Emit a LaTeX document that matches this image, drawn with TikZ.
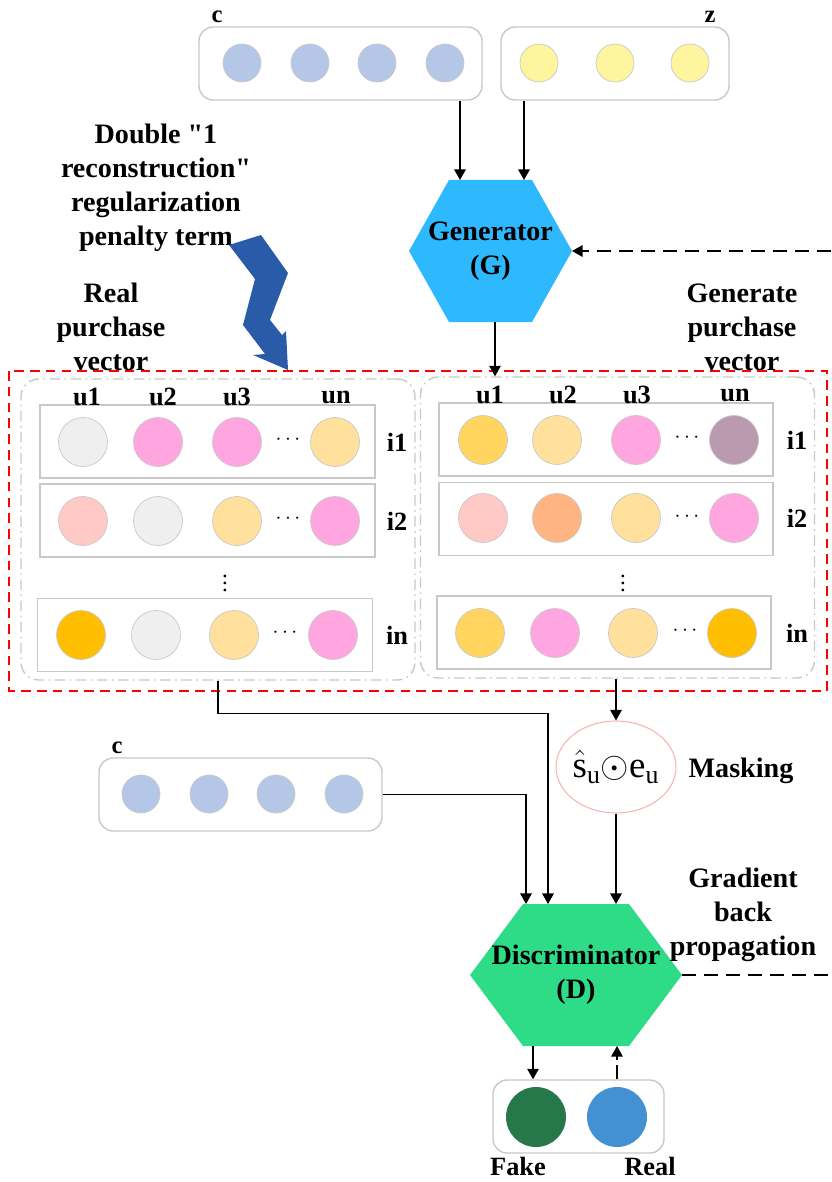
\documentclass[tikz,border=0pt]{standalone}
\usepackage{fontspec}
\setmainfont{Liberation Serif}
\usetikzlibrary{arrows.meta,shapes.geometric}
\definecolor{cstroke}{HTML}{C8C8C8}
\definecolor{cblue}{HTML}{B4C7E7}
\definecolor{cyel}{HTML}{FFF59E}
\definecolor{cgray}{HTML}{EFEFEF}
\definecolor{cpink}{HTML}{FFA6E1}
\definecolor{cltor}{HTML}{FFE09C}
\definecolor{csal}{HTML}{FFCAC6}
\definecolor{cory}{HTML}{FFD55F}
\definecolor{cgold}{HTML}{FFBF00}
\definecolor{cpeach}{HTML}{FFB482}
\definecolor{cmauve}{HTML}{B99AAE}
\definecolor{cfake}{HTML}{26784A}
\definecolor{creal}{HTML}{4391D2}
\definecolor{cgen}{HTML}{2EB9FF}
\definecolor{cdis}{HTML}{2EDC88}
\definecolor{cbolt}{HTML}{2A5BA8}
\definecolor{cmask}{HTML}{F5B5B5}

\begin{document}
\begin{tikzpicture}[x=0.02cm,y=-0.02cm,
  arr/.style={-{Triangle[length=6pt,width=6.5pt]},line width=0.9pt},
  dline/.style={line width=1.1pt,dash pattern=on 8pt off 4.5pt},
  vbox/.style={draw=cstroke,rounded corners=8pt,line width=0.8pt,minimum height=1.46cm},
  sml/.style={circle,draw=cstroke,line width=0.4pt,inner sep=0pt,minimum size=0.76cm},
  crc/.style={circle,draw=cstroke,line width=0.4pt,inner sep=0pt,minimum size=0.98cm},
  row/.style={draw=cstroke,line width=0.7pt,minimum width=6.7cm,minimum height=1.46cm},
  pnl/.style={draw=cstroke,line width=0.8pt,rounded corners=10pt,dash pattern=on 6pt off 2.5pt on 1pt off 2.5pt,minimum width=7.88cm,minimum height=6.02cm},
  lbl/.style={font=\fontsize{16}{19.3}\selectfont\bfseries,align=center,inner sep=0pt},
  ulbl/.style={font=\fontsize{15}{18}\selectfont\bfseries,inner sep=0pt}]
\useasboundingbox (0,0) rectangle (831,1182);

\node[vbox,minimum width=5.66cm] (cbox) at (340.5,63.5) {};
\node[sml,fill=cblue] (c1) at (242,63) {};
\node[sml,fill=cblue] (c2) at (310,63) {};
\node[sml,fill=cblue] (c3) at (377,63) {};
\node[sml,fill=cblue] (c4) at (445,63) {};
\node[vbox,minimum width=4.56cm] (zbox) at (615,63.5) {};
\node[sml,fill=cyel] (z1) at (539,63) {};
\node[sml,fill=cyel] (z2) at (615,63) {};
\node[sml,fill=cyel] (z3) at (690,63) {};
\node[ulbl,font=\fontsize{14}{16}\selectfont\bfseries] (clbl) at (217,17) {c};
\node[ulbl,font=\fontsize{14}{16}\selectfont\bfseries] (zlbl) at (710,17) {z};

\fill[cgen] (409,251) -- (449,180) -- (532,180) -- (572,251) -- (532,322) -- (449,322) -- cycle;
\node[lbl] (gen) at (490.5,251) {Generator\\(G)};
\coordinate (gin1) at (460,180);
\coordinate (gin2) at (524,180);
\coordinate (gout) at (495,322);
\coordinate (gright) at (572,251);
\draw[arr] (cbox.south -| gin1) -- (gin1);
\draw[arr] (zbox.south -| gin2) -- (gin2);

\node[lbl] (reg) at (156,187.5) {Double \textquotedbl1\\reconstruction\textquotedbl\\regularization\\penalty term};
\node[lbl] (real) at (111,327) {Real\\purchase\\vector};
\node[lbl] (genv) at (742,327) {Generate\\purchase\\vector};
\fill[cbolt] (229,245) -- (261,235) -- (288,273) -- (270,320) -- (282,335) -- (286,331) -- (288,370) -- (253,355) -- (265,354) -- (243,325) -- (255,279) -- cycle;

\draw[red,line width=0.7pt,dash pattern=on 5.5pt off 3.5pt] (9,371) rectangle (827,691);
\node[pnl] (lp) at (218,529.5) {};
\node[pnl] (rp) at (617.5,527.5) {};

\node[row] (l1) at (207.5,441.5) {};
\node[row] (l2) at (207.5,520.5) {};
\node[row] (l3) at (205,635) {};
\node[crc,fill=cgray] (l11) at (83,442) {};
\node[crc,fill=cpink] (l12) at (158,442) {};
\node[crc,fill=cpink] (l13) at (237,442) {};
\node[crc,fill=cltor] (l14) at (335,442) {};
\node[crc,fill=csal] (l21) at (83,521) {};
\node[crc,fill=cgray] (l22) at (158,521) {};
\node[crc,fill=cltor] (l23) at (237,521) {};
\node[crc,fill=cpink] (l24) at (335,521) {};
\node[crc,fill=cgold] (l31) at (81,635) {};
\node[crc,fill=cgray] (l32) at (156,635) {};
\node[crc,fill=cltor] (l33) at (234,635) {};
\node[crc,fill=cpink] (l34) at (333,635) {};
\node[inner sep=0pt,font=\fontsize{13}{15}\selectfont] (ld1) at (288,440) {$\cdots$};
\node[inner sep=0pt,font=\fontsize{13}{15}\selectfont] (ld2) at (288,519) {$\cdots$};
\node[inner sep=0pt,font=\fontsize{13}{15}\selectfont] (ld3) at (285,633) {$\cdots$};
\node[inner sep=0pt,font=\fontsize{13}{15}\selectfont] (lv) at (225,578) {$\vdots$};
\node[ulbl] (lu1) at (87,397) {u1};
\node[ulbl] (lu2) at (163,397) {u2};
\node[ulbl] (lu3) at (237,397) {u3};
\node[ulbl] (lun) at (336,397) {un};
\node[ulbl] (li1) at (397,442) {i1};
\node[ulbl] (li2) at (397,521) {i2};
\node[ulbl] (lin) at (397,635) {in};

\node[row,minimum width=6.68cm] (r1) at (606,439.5) {};
\node[row,minimum width=6.68cm] (r2) at (606,519) {};
\node[row,minimum width=6.68cm] (r3) at (604,632.5) {};
\node[crc,fill=cory] (r11) at (483,440) {};
\node[crc,fill=cltor] (r12) at (557,440) {};
\node[crc,fill=cpink] (r13) at (636,440) {};
\node[crc,fill=cmauve] (r14) at (734,440) {};
\node[crc,fill=csal] (r21) at (483,518) {};
\node[crc,fill=cpeach] (r22) at (557,518) {};
\node[crc,fill=cltor] (r23) at (636,518) {};
\node[crc,fill=cpink] (r24) at (734,518) {};
\node[crc,fill=cory] (r31) at (480,633) {};
\node[crc,fill=cpink] (r32) at (555,633) {};
\node[crc,fill=cltor] (r33) at (633,633) {};
\node[crc,fill=cgold] (r34) at (732,633) {};
\node[inner sep=0pt,font=\fontsize{13}{15}\selectfont] (rd1) at (687,438) {$\cdots$};
\node[inner sep=0pt,font=\fontsize{13}{15}\selectfont] (rd2) at (687,517) {$\cdots$};
\node[inner sep=0pt,font=\fontsize{13}{15}\selectfont] (rd3) at (685,631) {$\cdots$};
\node[inner sep=0pt,font=\fontsize{13}{15}\selectfont] (rv) at (623,578) {$\vdots$};
\node[ulbl] (ru1) at (490,395) {u1};
\node[ulbl] (ru2) at (563,395) {u2};
\node[ulbl] (ru3) at (637,395) {u3};
\node[ulbl] (run) at (735,395) {un};
\node[ulbl] (ri1) at (797,440) {i1};
\node[ulbl] (ri2) at (797,518) {i2};
\node[ulbl] (rin) at (797,633) {in};

\draw[arr] (gout) -- (rp.north -| gout);

\node[ellipse,draw=cmask,line width=0.6pt,minimum width=2.4cm,minimum height=1.84cm,inner sep=0pt] (msk) at (616,767) {};
\node[inner sep=0pt,font=\fontsize{21}{24}\selectfont] (mtxt) at (msk) {$\hat{\mathrm{s}}_{\mathrm{u}}\mathord{\odot}\mathrm{e}_{\mathrm{u}}$};
\node[lbl] (mlbl) at (741,771) {Masking};
\draw[arr] (rp.south -| msk.north) -- (msk.north);

\node[vbox,minimum width=5.66cm] (cb) at (240.5,794.5) {};
\node[sml,fill=cblue] (cb1) at (141,794) {};
\node[sml,fill=cblue] (cb2) at (209,794) {};
\node[sml,fill=cblue] (cb3) at (276,794) {};
\node[sml,fill=cblue] (cb4) at (344,794) {};
\node[ulbl,font=\fontsize{14}{16}\selectfont\bfseries] (cblbl) at (117,748) {c};

\fill[cdis] (470,975) -- (523,904) -- (629,904) -- (682,975) -- (629,1046) -- (523,1046) -- cycle;
\node[lbl] (dis) at (576,975) {Discriminator\\(D)};
\coordinate (din1) at (526,904);
\coordinate (din2) at (548,904);
\coordinate (din3) at (616,904);
\coordinate (dout1) at (533,1046);
\coordinate (dout2) at (617,1046);
\coordinate (dright) at (682,975);
\coordinate (fbbot) at (831,975);
\coordinate (fbtop) at (831,251);
\draw[arr] (cb.east) -| (din1);
\draw[arr] (lp.south) -- ++(0,33) -| (din2);
\draw[arr] (msk.south) -- (din3);
\draw[dline] (dright) -- (fbbot);
\draw[dline,-{Triangle[length=6pt,width=6.5pt]}] (fbtop) -- (gright);
\node[lbl] (grad) at (743,915) {Gradient\\back\\propagation};

\node[vbox,minimum width=3.42cm] (fr) at (578.5,1116.5) {};
\node[circle,fill=cfake,inner sep=0pt,minimum size=1.2cm] (fk) at (536,1117) {};
\node[circle,fill=creal,inner sep=0pt,minimum size=1.2cm] (rl) at (617,1117) {};
\draw[arr] (dout1) -- (fr.north -| dout1);
\draw[arr,dash pattern=on 8pt off 3pt] (fr.north -| dout2) -- (dout2);
\node[ulbl] (fklbl) at (518,1166) {Fake};
\node[ulbl] (rllbl) at (650,1166) {Real};
\end{tikzpicture}
\end{document}
